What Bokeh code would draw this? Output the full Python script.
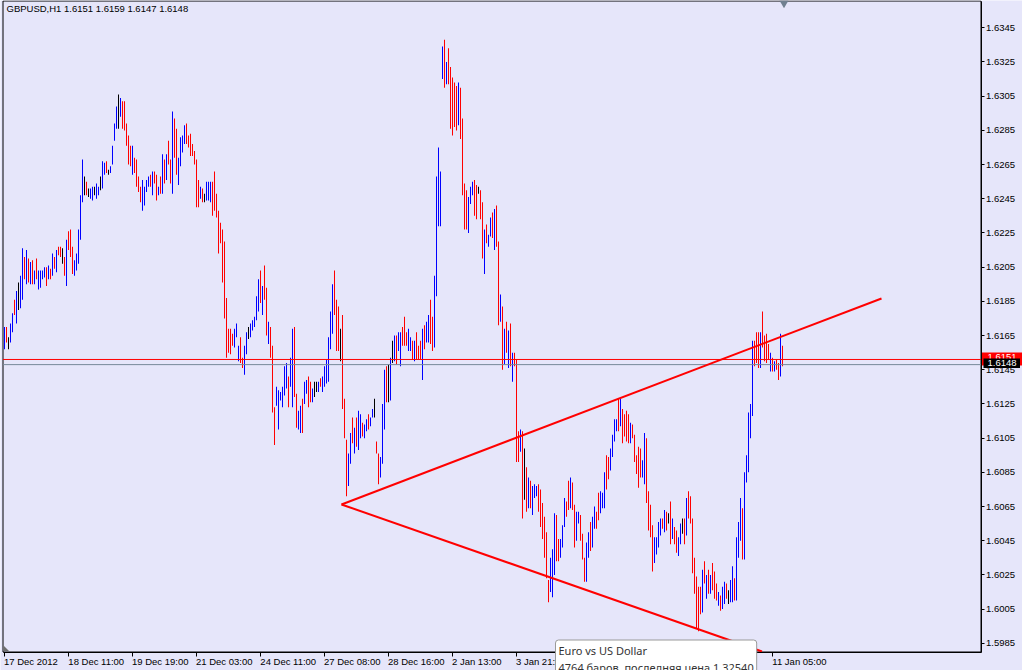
from bokeh.plotting import figure
from bokeh.models import (Range1d, FixedTicker, PrintfTickFormatter, CustomJSTickFormatter,
                          Label, LinearAxis, ColumnDataSource)
from bokeh.transform import dodge
from bokeh.core.properties import value
from bokeh.embed import file_html
from bokeh.resources import INLINE

# ---------------- data ----------------
SYMBOL = "GBPUSD,H1"
LAST_OHLC = [1.6151, 1.6159, 1.6147, 1.6148]

# hourly bars, prices x 10^4
high_pips = [
    16170, 16170, 16164, 16172, 16178, 16186, 16191, 16196, 16200, 16216,
    16211, 16215, 16210, 16208, 16209, 16203, 16210, 16203, 16203, 16203,
    16205, 16205, 16206, 16204, 16213, 16211, 16215, 16217, 16217, 16216,
    16211, 16221, 16226, 16227, 16217, 16209, 16213, 16227, 16247, 16268,
    16258, 16255, 16251, 16251, 16252, 16252, 16254, 16252, 16258, 16267,
    16266, 16267, 16262, 16264, 16276, 16289, 16299, 16306, 16304, 16302,
    16302, 16289, 16282, 16276, 16276, 16269, 16268, 16258, 16252, 16256,
    16252, 16256, 16258, 16259, 16261, 16261, 16259, 16252, 16258, 16271,
    16268, 16271, 16279, 16268, 16296, 16292, 16286, 16269, 16281, 16282,
    16288, 16289, 16282, 16283, 16277, 16273, 16268, 16256, 16252, 16251,
    16248, 16255, 16255, 16255, 16255, 16261, 16248, 16238, 16231, 16227,
    16220, 16187, 16169, 16169, 16166, 16169, 16172, 16159, 16164, 16152,
    16159, 16167, 16170, 16172, 16174, 16176, 16188, 16198, 16203, 16194,
    16206, 16193, 16173, 16170, 16159, 16123, 16135, 16133, 16132, 16135,
    16147, 16149, 16141, 16152, 16169, 16170, 16131, 16121, 16124, 16128,
    16138, 16139, 16141, 16138, 16134, 16138, 16138, 16138, 16140, 16141,
    16147, 16151, 16164, 16179, 16195, 16203, 16186, 16182, 16169, 16177,
    16128, 16104, 16096, 16108, 16117, 16111, 16117, 16121, 16119, 16114,
    16113, 16116, 16119, 16117, 16122, 16128, 16103, 16096, 16094, 16125,
    16145, 16147, 16148, 16152, 16162, 16165, 16165, 16167, 16167, 16170,
    16176, 16167, 16169, 16164, 16162, 16162, 16167, 16159, 16162, 16169,
    16171, 16173, 16177, 16186, 16176, 16200, 16258, 16275, 16261, 16334,
    16338, 16325, 16333, 16322, 16316, 16313, 16311, 16313, 16310, 16292,
    16254, 16250, 16246, 16252, 16255, 16256, 16253, 16252, 16250, 16243,
    16227, 16230, 16224, 16234, 16237, 16239, 16241, 16220, 16189, 16182,
    16169, 16173, 16168, 16172, 16155, 16155, 16151, 16109, 16110, 16109,
    16099, 16088, 16082, 16080, 16077, 16078, 16077, 16078, 16075, 16067,
    16059, 16050, 16022, 16035, 16040, 16061, 16060, 16046, 16046, 16054,
    16070, 16068, 16080, 16082, 16079, 16066, 16062, 16062, 16060, 16049,
    16035, 16044, 16050, 16056, 16059, 16065, 16062, 16073, 16074, 16073,
    16085, 16095, 16094, 16099, 16107, 16116, 16116, 16128, 16128, 16122,
    16119, 16121, 16119, 16114, 16113, 16107, 16095, 16100, 16099, 16092,
    16108, 16105, 16074, 16066, 16054, 16047, 16047, 16056, 16058, 16058,
    16063, 16062, 16061, 16068, 16058, 16053, 16051, 16047, 16055, 16058,
    16058, 16070, 16074, 16071, 16058, 16035, 16024, 16018, 16018, 16028,
    16033, 16025, 16028, 16025, 16032, 16027, 16020, 16015, 16013, 16018,
    16021, 16020, 16016, 16022, 16030, 16023, 16047, 16056, 16070, 16064,
    16085, 16095, 16120, 16125, 16162, 16162, 16167, 16167, 16167, 16179,
    16165, 16166, 16160, 16155, 16152, 16150, 16151, 16149, 16166, 16159,
]
low_pips = [
    16157, 16161, 16157, 16161, 16167, 16177, 16172, 16180, 16181, 16186,
    16198, 16195, 16196, 16195, 16195, 16195, 16198, 16192, 16193, 16198,
    16199, 16194, 16198, 16198, 16200, 16204, 16202, 16212, 16211, 16207,
    16200, 16194, 16215, 16211, 16201, 16200, 16203, 16207, 16221, 16243,
    16247, 16247, 16246, 16245, 16244, 16247, 16245, 16247, 16250, 16251,
    16259, 16260, 16259, 16260, 16265, 16279, 16286, 16286, 16293, 16286,
    16285, 16276, 16265, 16264, 16259, 16260, 16252, 16249, 16243, 16238,
    16241, 16249, 16252, 16252, 16247, 16254, 16244, 16247, 16248, 16248,
    16254, 16256, 16265, 16254, 16248, 16269, 16259, 16253, 16264, 16272,
    16277, 16277, 16275, 16270, 16270, 16265, 16240, 16240, 16245, 16243,
    16243, 16244, 16244, 16243, 16235, 16238, 16234, 16213, 16219, 16196,
    16175, 16152, 16155, 16154, 16159, 16158, 16164, 16150, 16149, 16146,
    16142, 16154, 16163, 16164, 16168, 16170, 16174, 16179, 16184, 16177,
    16186, 16165, 16160, 16152, 16120, 16101, 16124, 16110, 16127, 16123,
    16130, 16134, 16123, 16135, 16123, 16129, 16111, 16110, 16108, 16108,
    16125, 16131, 16123, 16126, 16126, 16129, 16132, 16132, 16135, 16132,
    16135, 16137, 16138, 16157, 16166, 16177, 16156, 16156, 16150, 16122,
    16105, 16071, 16077, 16090, 16102, 16096, 16100, 16098, 16105, 16106,
    16105, 16109, 16110, 16112, 16117, 16117, 16096, 16078, 16082, 16090,
    16110, 16126, 16126, 16127, 16149, 16150, 16148, 16156, 16147, 16159,
    16159, 16159, 16156, 16156, 16151, 16150, 16151, 16151, 16151, 16139,
    16157, 16161, 16161, 16160, 16156, 16158, 16188, 16229, 16229, 16315,
    16310, 16312, 16312, 16286, 16282, 16287, 16285, 16288, 16280, 16247,
    16227, 16227, 16225, 16242, 16247, 16235, 16233, 16248, 16233, 16210,
    16201, 16219, 16217, 16223, 16222, 16215, 16217, 16171, 16173, 16145,
    16148, 16155, 16146, 16147, 16138, 16147, 16091, 16091, 16097, 16058,
    16069, 16062, 16064, 16064, 16060, 16070, 16071, 16062, 16053, 16046,
    16035, 16023, 16009, 16015, 16012, 16025, 16033, 16033, 16035, 16041,
    16053, 16059, 16063, 16064, 16063, 16041, 16045, 16055, 16045, 16034,
    16021, 16021, 16035, 16039, 16041, 16052, 16052, 16057, 16061, 16064,
    16064, 16075, 16081, 16086, 16094, 16103, 16109, 16109, 16112, 16102,
    16106, 16103, 16102, 16102, 16105, 16091, 16084, 16076, 16082, 16082,
    16078, 16067, 16051, 16047, 16027, 16032, 16037, 16041, 16048, 16052,
    16050, 16051, 16055, 16043, 16046, 16043, 16038, 16036, 16043, 16049,
    16043, 16048, 16058, 16055, 16026, 16014, 15994, 15992, 16002, 16003,
    16020, 16011, 16014, 16014, 16016, 16011, 16010, 16007, 16004, 16005,
    16008, 16011, 16008, 16009, 16009, 16010, 16010, 16035, 16045, 16034,
    16034, 16079, 16085, 16105, 16118, 16147, 16149, 16146, 16146, 16158,
    16150, 16149, 16151, 16144, 16144, 16144, 16145, 16139, 16141, 16147,
]
# bar colour: u = up (blue), d = down (red), n = unchanged (black)
bar_dirs = "".join([
    "udnuudunuu", "dudududuuu", "ududududdn", "duddduuuuu", "ndnuunuunu",
    "udnuuuunud", "dddduddddu", "uuududdudu", "duddudduuu", "udddddddud",
    "nuuudddddd", "ddddduuudd", "uunuuuuudu", "dduddduuuu", "uuduudduud",
    "uuddunnudu", "uuuuudddnd", "dduududuud", "uuduundduu", "udnunuduud",
    "dduududddu", "duudduuuuu", "dudddddudd", "dduuuddndd", "uduududdud",
    "udududddud", "nduduuuddd", "ddduuudduu", "uddudduudd", "duuduudduu",
    "udduuuudud", "dddudddddu", "udddduuuud", "udndudduun", "dudddddddu",
    "dududddudu", "udnuuduuud", "uuuuudddud", "dddududdud",
])

x_tick_bars = [0, 32, 64, 96, 128, 160, 192, 224, 256, 288, 320, 352, 384]
x_label_bars = [0, 32, 64, 96, 128, 160, 192, 224, 256, 384]
x_labels = ["17 Dec 2012", "18 Dec 11:00", "19 Dec 19:00", "21 Dec 03:00", "24 Dec 11:00",
            "27 Dec 08:00", "28 Dec 16:00", "2 Jan 13:00", "3 Jan 21:00", "11 Jan 05:00"]
y_ticks = [1.5985, 1.6005, 1.6025, 1.6045, 1.6065, 1.6085, 1.6105, 1.6125, 1.6145, 1.6165,
           1.6185, 1.6205, 1.6225, 1.6245, 1.6265, 1.6285, 1.6305, 1.6325, 1.6345]

level_line = 1.6151          # red horizontal line
bid_line = 1.6148            # grey bid line
trend_up_bar = [168.75, 438.75]
trend_up_price = [1.60662, 1.61867]
trend_dn_bar = [168.75, 379.0]
trend_dn_price = [1.60662, 1.59802]

tooltip_lines = ["Euro vs US Dollar", "4764 баров, последняя цена 1.32540"]

# ---------------- geometry & styling ----------------
LAV = "#E6E6FA"
UP_C, DN_C, FLAT_C = "#0000FF", "#FF0000", "#000000"
FONT = "Liberation Sans"
FS = 9.5
W, H = 1022, 670
PX_X = 2.0                       # pixels per hourly bar
PX_Y = 17097.0                   # pixels per price unit
X_START = -1.75                  # bar index at the left edge of the canvas
Y_TOP = 1.6345 + 27.3 / PX_Y     # price at the top edge of the canvas


def xd(px):      # canvas x pixel -> bar index
    return X_START + px / PX_X


def yd(py):      # canvas y pixel -> price
    return Y_TOP - py / PX_Y


def py_of(price):
    return (Y_TOP - price) * PX_Y


CH_L, CH_R = xd(2.5), xd(980.5)        # chart window edges
CH_T, CH_B = yd(0.5), yd(651.5)

# Arial / Liberation Sans advance widths (1/1000 em) for the label characters
AW = {" ": 278, ":": 278, "D": 722, "e": 556, "c": 500, "J": 500, "a": 556, "n": 556}


def text_w(s):
    return sum(AW.get(c, 556) for c in s) / 1000.0 * FS


n = len(high_pips)
dirs = (bar_dirs + "n" * n)[:n]
cmap = {"u": UP_C, "d": DN_C, "n": FLAT_C}
src = ColumnDataSource(dict(
    x=list(range(n)),
    high=[h / 10000 for h in high_pips],
    low=[l / 10000 for l in low_pips],
    color=[cmap[c] for c in dirs],
))

p = figure(width=W, height=H,
           x_range=Range1d(X_START, xd(W)), y_range=Range1d(yd(H), Y_TOP),
           y_axis_location="right", output_backend="svg", toolbar_location=None,
           min_border_left=0, min_border_top=0, min_border_right=0, min_border_bottom=0,
           background_fill_color=LAV, border_fill_color=LAV, outline_line_color=None)
p.grid.visible = False

# right price axis, pinned to the chart window's right edge
ya = p.yaxis[0]
ya.fixed_location = CH_R
ya.bounds = (CH_B, CH_T)
ya.ticker = FixedTicker(ticks=y_ticks)
ya.formatter = PrintfTickFormatter(format="%.4f")
ya.axis_line_color = "black"
ya.major_tick_line_color = "black"
ya.major_tick_out = 3
ya.major_tick_in = 0
ya.minor_tick_out = 0
ya.minor_tick_in = 0
ya.major_label_standoff = 2
ya.major_label_text_font = FONT
ya.major_label_text_font_size = f"{FS}px"
ya.major_label_text_color = "black"

# bottom time axis: tick marks
xa = p.xaxis[0]
xa.fixed_location = CH_B
xa.bounds = (CH_L, CH_R)
xa.ticker = FixedTicker(ticks=x_tick_bars)
xa.formatter = CustomJSTickFormatter(code="return ''")
xa.major_label_text_font_size = "0px"
xa.axis_line_color = "black"
xa.major_tick_line_color = "black"
xa.major_tick_out = 4
xa.major_tick_in = 0
xa.minor_tick_out = 0
xa.minor_tick_in = 0

# bottom time axis: labels, left-aligned at their tick (label centre = tick + half text width)
label_centres = [b + (text_w(t) / 2) / PX_X for b, t in zip(x_label_bars, x_labels)]
xl = LinearAxis(fixed_location=CH_B, ticker=FixedTicker(ticks=label_centres),
                formatter=CustomJSTickFormatter(args=dict(pos=label_centres, txt=x_labels), code="""
                    let best = 0, bd = Infinity;
                    for (let i = 0; i < pos.length; i++) {
                        const d = Math.abs(pos[i] - tick);
                        if (d < bd) { bd = d; best = i; }
                    }
                    return txt[best];
                """),
                axis_line_color=None, major_tick_line_color=None, minor_tick_line_color=None,
                major_tick_out=0, major_tick_in=0, major_label_standoff=4,
                major_label_text_font=FONT, major_label_text_font_size=f"{FS}px",
                major_label_text_color="black")
p.add_layout(xl, "below")

# chart window border
p.quad(left=[CH_L], right=[CH_R], top=[CH_T], bottom=[CH_B],
       fill_color=None, line_color="black", line_width=1)

# bars (1 px wide, half a pixel shifted so that each bar fills exactly one pixel column)
p.vbar(x=dodge("x", 0.5 / PX_X, range=p.x_range), width=1.0 / PX_X, top="high", bottom="low",
       fill_color="color", line_color=None, source=src)

# horizontal lines
p.segment(x0=[CH_L, CH_L], x1=[CH_R, CH_R], y0=[bid_line, level_line], y1=[bid_line, level_line],
          line_color=["#778899", "#FF0000"], line_width=1)

# trend lines
p.line(trend_up_bar, trend_up_price, line_color="#FF0000", line_width=2)
p.line(trend_dn_bar, trend_dn_price, line_color="#FF0000", line_width=2)

# chart shift marker and corner marker
p.scatter([n], [yd(2.5)], marker="inverted_triangle", size=9, color="#708090", line_color=None)
p.patch([xd(3), xd(3), xd(8.5)], [yd(645), yd(650.5), yd(650.5)], color="#6E6E6E", line_color=None)

# title
p.add_layout(Label(x=xd(6), y=yd(2), text=f"{SYMBOL}  " + " ".join(f"{v:.4f}" for v in LAST_OHLC),
                   text_align="left", text_baseline="top", text_font=FONT,
                   text_font_size=f"{FS}px", text_color="black"))

# price tags on the axis (drawn above the axis labels)
r_py, b_py = py_of(level_line), py_of(bid_line)
p.quad(left=[xd(981.5)], right=[xd(1021.5)], top=[yd(r_py - 7)], bottom=[yd(r_py + 6)],
       fill_color="#FF0000", line_color=None, level="overlay")
p.text(x=[xd(1001.5)], y=[yd(r_py - 2.5)], text=[f"{level_line:.4f}"], text_align="center",
       text_baseline="middle", text_font=value(FONT), text_font_size=value(f"{FS}px"),
       text_color="white", level="overlay")
p.quad(left=[xd(983)], right=[xd(1019.5)], top=[yd(b_py - 6)], bottom=[yd(b_py + 3.5)],
       fill_color="#000000", line_color=None, level="overlay")
p.text(x=[xd(1001.5)], y=[yd(b_py - 1.2)], text=[f"{bid_line:.4f}"], text_align="center",
       text_baseline="middle", text_font=value(FONT), text_font_size=value(f"{FS}px"),
       text_color="white", level="overlay")

# tooltip box (its box is anchored at x, y)
p.add_layout(Label(x=xd(555), y=yd(639.5), text="\n".join(tooltip_lines), text_align="left",
                   text_baseline="top", text_font="Noto Sans", text_font_size="11px",
                   text_color="#333333", text_line_height=1.1,
                   background_fill_color="#FFFFFF", border_line_color="#9A9A9A",
                   border_line_width=1, padding=3, border_radius=3, level="overlay"))

open("out.html", "w").write(file_html(p, INLINE))
